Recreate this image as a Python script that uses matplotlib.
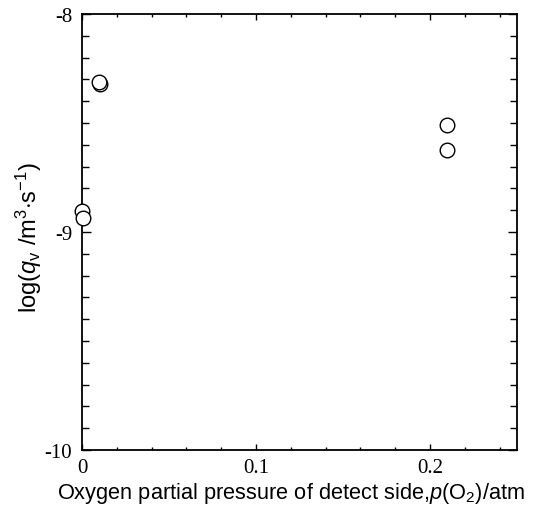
import numpy as np
import matplotlib
matplotlib.use('Agg')
from matplotlib import pyplot as plt
from matplotlib.ticker import MultipleLocator

plt.rcParams['mathtext.fontset'] = 'custom'
plt.rcParams['mathtext.rm'] = 'Liberation Sans'
plt.rcParams['mathtext.it'] = 'Liberation Sans:italic'

# oxygen partial pressure on detect side (atm) and log of permeation rate
p_o2 = [0.0, 0.0005, 0.0103, 0.0098, 0.21, 0.21]
log_qv = [-8.904, -8.936, -8.321, -8.312, -8.509, -8.624]

x_ticks = [0, 0.1, 0.2]
x_ticklabels = ['0', '0.1', '0.2']
y_ticks = [-10, -9, -8]
y_ticklabels = ['-10', '-9', '-8']

fig = plt.figure(figsize=(5.35, 5.06), dpi=100)
ax = fig.add_axes([82 / 535, 1 - 451 / 506, 435 / 535, 436 / 506])

ax.plot(p_o2, log_qv, 'o', mfc='white', mec='black', mew=1.0, ms=10.5, ls='none',
        clip_on=False, zorder=5)

ax.set_xlim(0, 0.25)
ax.set_ylim(-10, -8)
ax.set_xticks(x_ticks)
ax.set_xticklabels(x_ticklabels, family='Liberation Serif', fontsize=15)
ax.set_yticks(y_ticks)
ax.set_yticklabels(y_ticklabels, family='Liberation Serif', fontsize=15)
ax.xaxis.set_minor_locator(MultipleLocator(0.02))
ax.yaxis.set_minor_locator(MultipleLocator(0.1))

ax.tick_params(axis='both', which='both', direction='in', top=True, right=True, width=1.0)
ax.tick_params(axis='x', which='major', length=4.5, pad=6)
ax.tick_params(axis='x', which='minor', length=2.3)
ax.tick_params(axis='y', which='major', length=6.5, pad=7)
ax.tick_params(axis='y', which='minor', length=5)
for s in ax.spines.values():
    s.set_linewidth(1.3)

ax.set_xlabel(r'Oxygen partial pressure of detect side,$p$(O$_2$)/atm',
              family='Liberation Sans', fontsize=15.7)
ax.xaxis.set_label_coords(0.48, -0.068)
ax.set_ylabel(r'log($q_{\rm v}$ /m$^3$$\cdot$s$^{-1}$)', family='Liberation Sans', fontsize=17)
ax.yaxis.set_label_coords(-0.088, 0.489)

fig.savefig('out.png', dpi=100)
